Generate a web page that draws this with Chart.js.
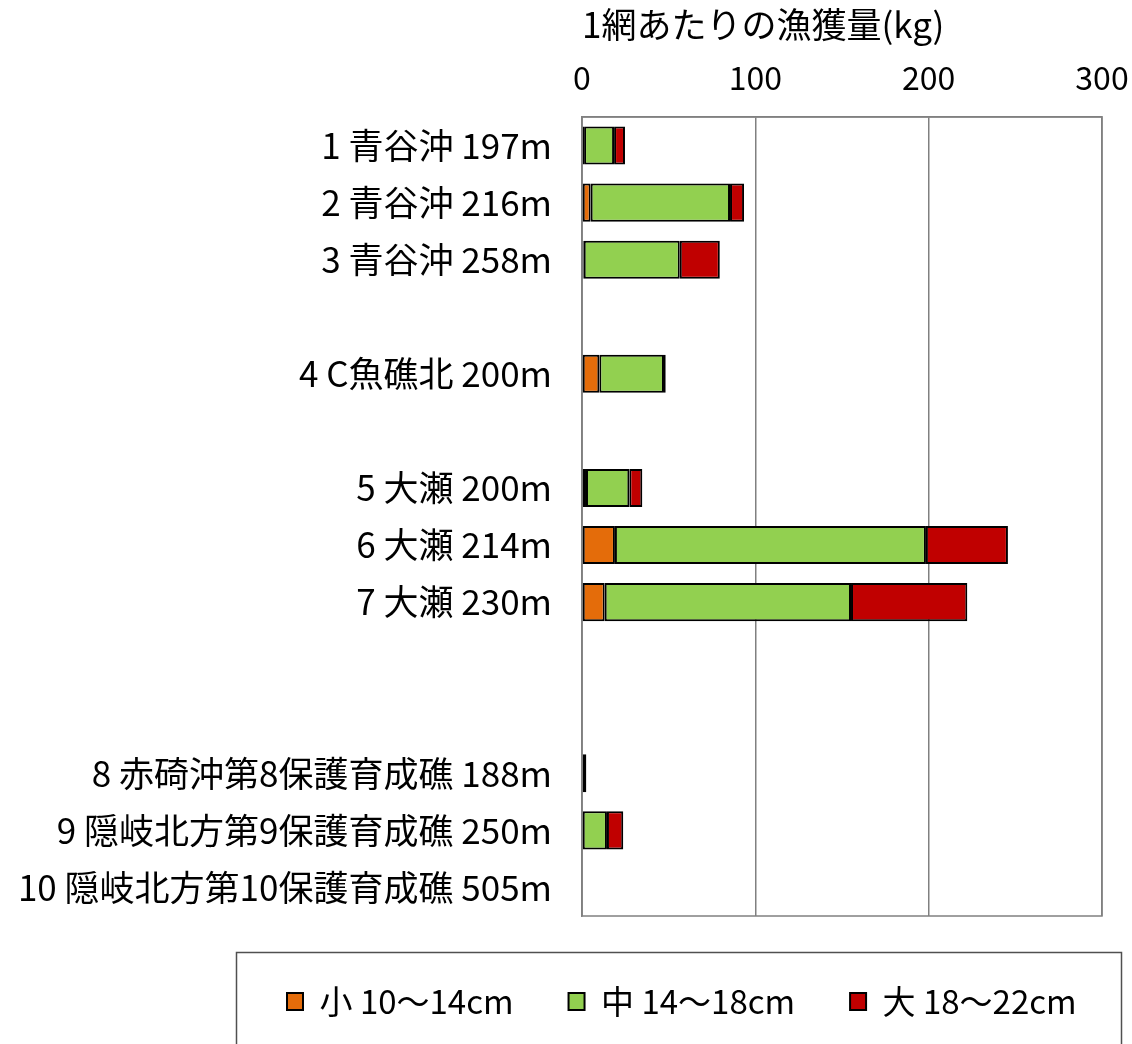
<!DOCTYPE html>
<html>
<head>
<meta charset="utf-8">
<script src="https://cdn.jsdelivr.net/npm/chart.js@4.4.1/dist/chart.umd.min.js"></script>
<style>
  html, body { margin: 0; padding: 0; background: #fff; }
  #wrap { width: 1132px; height: 1044px; position: relative; }
</style>
</head>
<body>
<div id="wrap"><canvas id="catchChart"></canvas></div>
<script>
'use strict';

// stations (empty strings are the gaps between sea areas)
const categories = [
    '1 青谷沖 197m', '2 青谷沖 216m', '3 青谷沖 258m', '',
    '4 C魚礁北 200m', '',
    '5 大瀬 200m', '6 大瀬 214m', '7 大瀬 230m', '', '',
    '8 赤碕沖第8保護育成礁 188m', '9 隠岐北方第9保護育成礁 250m', '10 隠岐北方第10保護育成礁 505m'
];

// catch per net (kg) by size class
const smallFish  = [1.2, 5.0, 1.0, null, 10.0, null, 2.3, 19.0, 13.1, null, null, 0, 0, 0];
const mediumFish = [17.3, 80.4, 55.4, null, 37.3, null, 25.0, 179.4, 142.1, null, null, 2.5, 14.4, 0];
const largeFish  = [6.3, 8.1, 23.1, null, 1.0, null, 7.5, 47.3, 67.1, null, null, 0, 9.4, 0];

const seriesLabels = ['小 10～14cm', '中 14～18cm', '大 18～22cm'];
const axisTitle = '1網あたりの漁獲量(kg)';
const axisMax = 300;
const axisStep = 100;

const FONT = "'Noto Sans CJK JP', 'Noto Sans', sans-serif";
const LEGEND_PAD = 55;

// plot box outline + legend frame
const framePlugin = {
    id: 'frame',
    beforeDatasetsDraw: function (chart) {
        const a = chart.chartArea;
        const ctx = chart.ctx;
        ctx.save();
        ctx.strokeStyle = '#808080';
        ctx.lineWidth = 1.5;
        ctx.strokeRect(a.left, a.top, a.right - a.left, a.bottom - a.top);
        ctx.restore();
    },
    afterDraw: function (chart) {
        const ctx = chart.ctx;
        ctx.save();
        ctx.strokeStyle = '#505050';
        ctx.lineWidth = 1.5;
        ctx.strokeRect(236.5, 952.5, 885, 120);
        ctx.restore();
    }
};

// move legend row into its frame
const legendShift = {
    id: 'legendShift',
    afterLayout: function (chart) {
        const lg = chart.legend;
        lg.left = 287 - LEGEND_PAD;
        lg.right = 1400;
        lg.top = 930;
        lg.bottom = 1044;
    }
};

const ctx = document.getElementById('catchChart').getContext('2d');
const chart = new Chart(ctx, {
    type: 'bar',
    data: {
        labels: categories,
        datasets: [
            {
                label: seriesLabels[0],
                data: smallFish,
                backgroundColor: '#E46C0A',
                borderColor: '#000000',
                borderWidth: 2,
                borderSkipped: false
            },
            {
                label: seriesLabels[1],
                data: mediumFish,
                backgroundColor: '#92D050',
                borderColor: '#000000',
                borderWidth: 2,
                borderSkipped: false
            },
            {
                label: seriesLabels[2],
                data: largeFish,
                backgroundColor: '#C00000',
                borderColor: '#000000',
                borderWidth: 2,
                borderSkipped: false
            }
        ]
    },
    options: {
        indexAxis: 'y',
        responsive: true,
        maintainAspectRatio: false,
        devicePixelRatio: 1,
        animation: false,
        categoryPercentage: 1.0,
        barPercentage: 0.667,
        layout: {
            padding: {left: 10, right: 30, top: 0, bottom: 30}
        },
        scales: {
            x: {
                position: 'top',
                stacked: true,
                min: 0,
                max: axisMax,
                ticks: {
                    stepSize: axisStep,
                    padding: 20,
                    color: '#000',
                    font: {family: FONT, size: 32}
                },
                grid: {
                    color: '#808080',
                    lineWidth: 1.5,
                    drawTicks: false
                },
                border: {display: true, color: '#808080', width: 1.5},
                title: {
                    display: true,
                    text: axisTitle,
                    align: 'start',
                    color: '#000',
                    font: {family: FONT, size: 35},
                    padding: {top: 4, bottom: 0}
                },
                afterFit: function (scale) {
                    scale.height = 117;
                    scale.paddingLeft = 0;
                    scale.paddingRight = 0;
                }
            },
            y: {
                stacked: true,
                ticks: {
                    padding: 30,
                    color: '#000',
                    autoSkip: false,
                    font: {family: FONT, size: 35}
                },
                grid: {display: false, drawTicks: false},
                border: {display: true, color: '#808080', width: 1.5},
                afterFit: function (scale) {
                    scale.width = 572;
                }
            }
        },
        plugins: {
            legend: {
                position: 'bottom',
                align: 'start',
                labels: {
                    boxWidth: 16,
                    boxHeight: 17,
                    padding: LEGEND_PAD,
                    color: '#000',
                    font: {family: FONT, size: 33}
                }
            },
            tooltip: {enabled: false}
        }
    },
    plugins: [framePlugin, legendShift]
});
</script>
</body>
</html>
